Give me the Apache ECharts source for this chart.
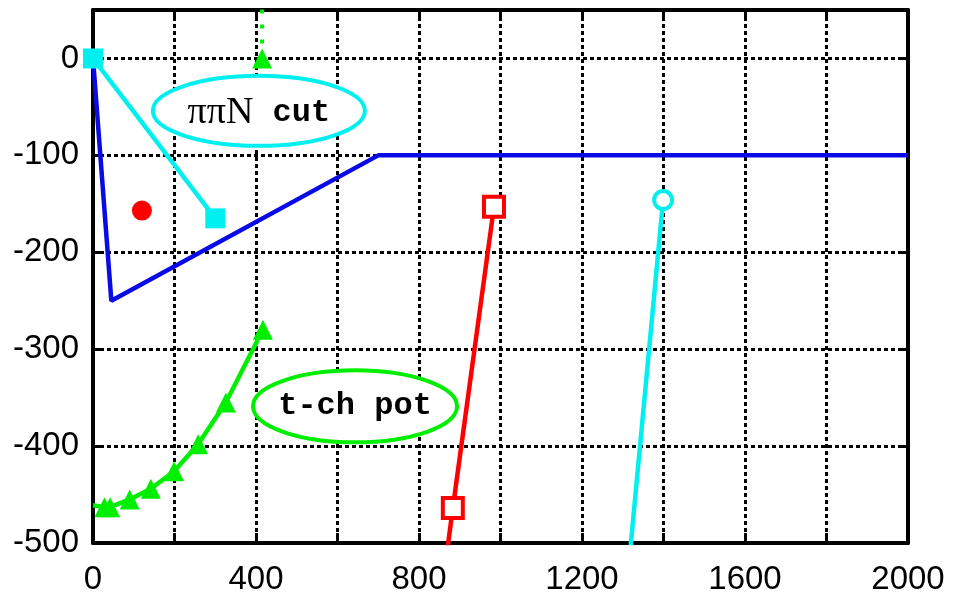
<!DOCTYPE html>
<html>
<head>
<meta charset="utf-8">
<script src="https://cdn.jsdelivr.net/npm/echarts@6/dist/echarts.min.js"></script>
<style>
  html, body { margin: 0; padding: 0; background: #fff; }
  #chart { width: 956px; height: 600px; }
</style>
</head>
<body>
<div id="chart"></div>
<script>
// values
var xTicks = [0, 400, 800, 1200, 1600, 2000];
var yTicks = [0, -100, -200, -300, -400, -500];

var bluePath = [[0, 0], [45, -250], [700, -100], [2000, -100]];
var cyanCut = [[0, 0], [300, -165]];
var redDot = [[120, -157]];
var greenDotted = [[415, 0], [415, 80]];
var greenPot = [[0, -461], [28, -463], [42, -463], [90, -455], [142, -444], [199, -426], [258, -398], [326, -355], [417, -280]];
var redOpen = [[840, -600], [883, -464], [984, -153]];
var cyanOpen = [[1300, -590], [1399, -146]];

// annotation anchors (data coords)
var cutLabelAt = [407, -54];
var potLabelAt = [643, -359];

var chart = echarts.init(document.getElementById('chart'));

var gridDot = { color: '#000', width: 3, type: [4, 3] };
var border = { show: true, onZero: false, lineStyle: { color: '#000', width: 4 } };
var tickIn = { show: true, inside: true, length: 10, lineStyle: { color: '#000', width: 3 } };
var tickFont = { color: '#000', fontSize: 33, fontFamily: 'Liberation Sans' };

function noMarkFirst(arr) {
  return arr.map(function (p, i) {
    return i === 0 ? { value: p, symbol: 'none' } : p;
  });
}

var option = {
  animation: false,
  grid: { left: 93, right: 48, top: 10, bottom: 57 },
  xAxis: [
    {
      type: 'value', min: 0, max: 2000, interval: 200,
      axisLine: border, axisTick: tickIn,
      axisLabel: Object.assign({}, tickFont, {
        margin: 20,
        formatter: function (v) { return xTicks.indexOf(v) >= 0 ? String(v) : ''; }
      }),
      splitLine: { show: true, lineStyle: gridDot }
    },
    {
      type: 'value', position: 'top', min: 0, max: 2000, interval: 200,
      axisLine: border, axisTick: tickIn, axisLabel: { show: false }, splitLine: { show: false }
    }
  ],
  yAxis: [
    {
      type: 'value', min: -500, max: 50, interval: 100,
      axisLine: border, axisTick: tickIn,
      axisLabel: Object.assign({}, tickFont, {
        margin: 14,
        formatter: function (v) { return yTicks.indexOf(v) >= 0 ? String(v) : ''; }
      }),
      splitLine: { show: true, lineStyle: gridDot }
    },
    {
      type: 'value', position: 'right', min: -500, max: 50, interval: 100,
      axisLine: border, axisTick: tickIn, axisLabel: { show: false }, splitLine: { show: false }
    }
  ],
  series: [
    {
      type: 'line', data: bluePath, symbol: 'none', clip: true,
      lineStyle: { color: '#0a0ae6', width: 4.5 }, z: 3
    },
    {
      type: 'line', data: cyanCut, symbol: 'rect', symbolSize: 20, clip: false,
      lineStyle: { color: '#00f0f0', width: 4.5 }, itemStyle: { color: '#00f0f0' }, z: 4
    },
    {
      type: 'scatter', data: redDot, symbol: 'circle', symbolSize: 20,
      itemStyle: { color: '#ff0000', opacity: 1 }, z: 4
    },
    {
      type: 'line', data: greenDotted.map(function (p, i) { return i === 0 ? p : { value: p, symbol: 'none' }; }),
      symbol: 'triangle', symbolSize: 20, clip: true,
      lineStyle: { color: '#00ee00', width: 4, type: [4, 11] }, itemStyle: { color: '#00ee00' }, z: 4
    },
    {
      type: 'line', data: noMarkFirst(greenPot), symbol: 'triangle', symbolSize: 20, clip: true,
      lineStyle: { color: '#00ee00', width: 4.5 }, itemStyle: { color: '#00ee00' }, z: 4
    },
    {
      type: 'line', data: noMarkFirst(redOpen), symbol: 'rect', symbolSize: 20, clip: true,
      lineStyle: { color: '#ff0000', width: 4.5 },
      itemStyle: { color: '#fff', borderColor: '#ff0000', borderWidth: 4 }, z: 4
    },
    {
      type: 'line', data: noMarkFirst(cyanOpen), symbol: 'circle', symbolSize: 18, clip: true,
      lineStyle: { color: '#00f0f0', width: 4.5 },
      itemStyle: { color: '#fff', borderColor: '#00f0f0', borderWidth: 4 }, z: 4
    }
  ]
};
chart.setOption(option);

// labelled ellipses
var c1 = chart.convertToPixel({ xAxisIndex: 0, yAxisIndex: 0 }, cutLabelAt);
var c2 = chart.convertToPixel({ xAxisIndex: 0, yAxisIndex: 0 }, potLabelAt);
chart.setOption({
  graphic: [
    {
      type: 'ellipse', shape: { cx: c1[0], cy: c1[1], rx: 106, ry: 35 },
      style: { fill: '#fff', stroke: '#00f0f0', lineWidth: 4 }, z: 10
    },
    {
      type: 'text', x: c1[0], y: c1[1] + 2, z: 11,
      style: {
        text: '{s|ππN}{m| cut}', align: 'center', verticalAlign: 'middle',
        rich: {
          s: { fontFamily: 'Liberation Serif', fontSize: 38, fill: '#000' },
          m: { fontFamily: 'Liberation Mono', fontWeight: 'bold', fontSize: 32, fill: '#000' }
        }
      }
    },
    {
      type: 'ellipse', shape: { cx: c2[0], cy: c2[1], rx: 102, ry: 36 },
      style: { fill: '#fff', stroke: '#00ee00', lineWidth: 4 }, z: 10
    },
    {
      type: 'text', x: c2[0], y: c2[1], z: 11,
      style: {
        text: 't-ch pot', align: 'center', verticalAlign: 'middle',
        fontFamily: 'Liberation Mono', fontWeight: 'bold', fontSize: 32, fill: '#000'
      }
    }
  ]
});
</script>
</body>
</html>
